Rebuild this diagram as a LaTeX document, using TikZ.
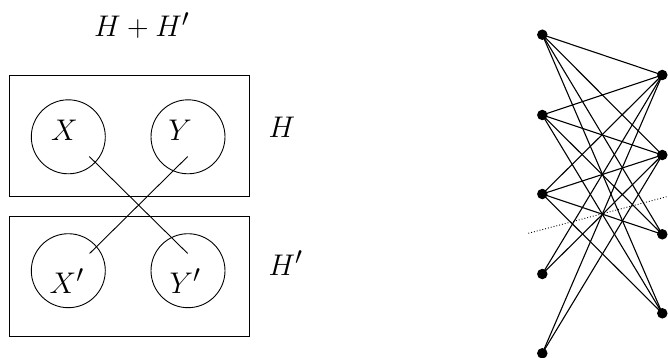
\documentclass[tikz,border=0pt]{standalone}
\usepackage{graphicx}
\newcommand\mylbl[1]{\scalebox{1.2}{$#1$}}
\begin{document}
\begin{tikzpicture}[x=1pt,y=-1pt,
  lbl/.style={inner sep=0pt,font=\fontsize{24.88}{30}\selectfont},
  boxnode/.style={draw,line width=0.9pt,minimum width=240pt,minimum height=121pt,inner sep=0pt},
  setnode/.style={draw,circle,line width=0.9pt,minimum size=74pt,inner sep=0pt},
  vtx/.style={circle,fill=black,minimum size=10.5pt,inner sep=0pt},
  edge/.style={line width=1.1pt},
  thinline/.style={line width=0.9pt}]
\useasboundingbox (0,0) rectangle (668,358);
% left part
\node[lbl,anchor=base] (title) at (141.7,37) {\mylbl{H+H'}};
\node[boxnode] (Hbox) at (129.3,135.5) {};
\node[boxnode,minimum height=120.7pt] (Hpbox) at (129.3,276.3) {};
\node[setnode] (X) at (68.3,136.8) {};
\node[setnode] (Y) at (188,136.8) {};
\node[setnode] (Xp) at (68.3,270.7) {};
\node[setnode] (Yp) at (188,270.7) {};
\node[lbl] (Xl) at (64.5,130.5) {\mylbl{X}};
\node[lbl] (Yl) at (180,130.5) {\mylbl{Y}};
\node[lbl,anchor=base west] (Xpl) at (49.5,293) {\mylbl{X'}};
\node[lbl,anchor=base west] (Ypl) at (169.5,293) {\mylbl{Y'}};
\node[lbl,anchor=base west] (Hl) at (268.5,137.3) {\mylbl{H}};
\node[lbl,anchor=base west] (Hpl) at (268.5,275.5) {\mylbl{H'}};
\coordinate (xa) at (89.3,156.5);
\coordinate (ypb) at (187.7,253.5);
\coordinate (ya) at (187.7,156.5);
\coordinate (xpb) at (89.6,253.5);
\draw[thinline] (xa) -- (ypb);
\draw[thinline] (ya) -- (xpb);
% right part
\node[vtx] (L1) at (542.3,34.7) {};
\node[vtx] (L2) at (542.3,115) {};
\node[vtx] (L3) at (542.3,194) {};
\node[vtx] (L4) at (542.3,274) {};
\node[vtx] (L5) at (542.3,353.3) {};
\node[vtx] (R1) at (662.3,75) {};
\node[vtx] (R2) at (662.3,155) {};
\node[vtx] (R3) at (662.3,234.3) {};
\node[vtx] (R4) at (662.3,313.3) {};
\foreach \l in {L1,L2,L3}{
  \foreach \r in {R1,R2,R3,R4}{
    \draw[edge] (\l.center) -- (\r.center);
  }
}
\foreach \l in {L4,L5}{
  \foreach \r in {R1,R2}{
    \draw[edge] (\l.center) -- (\r.center);
  }
}
\coordinate (d1) at (528.3,233.3);
\coordinate (d2) at (680,193.2);
\draw[thinline,dotted] (d1) -- (d2);
\end{tikzpicture}
\end{document}
